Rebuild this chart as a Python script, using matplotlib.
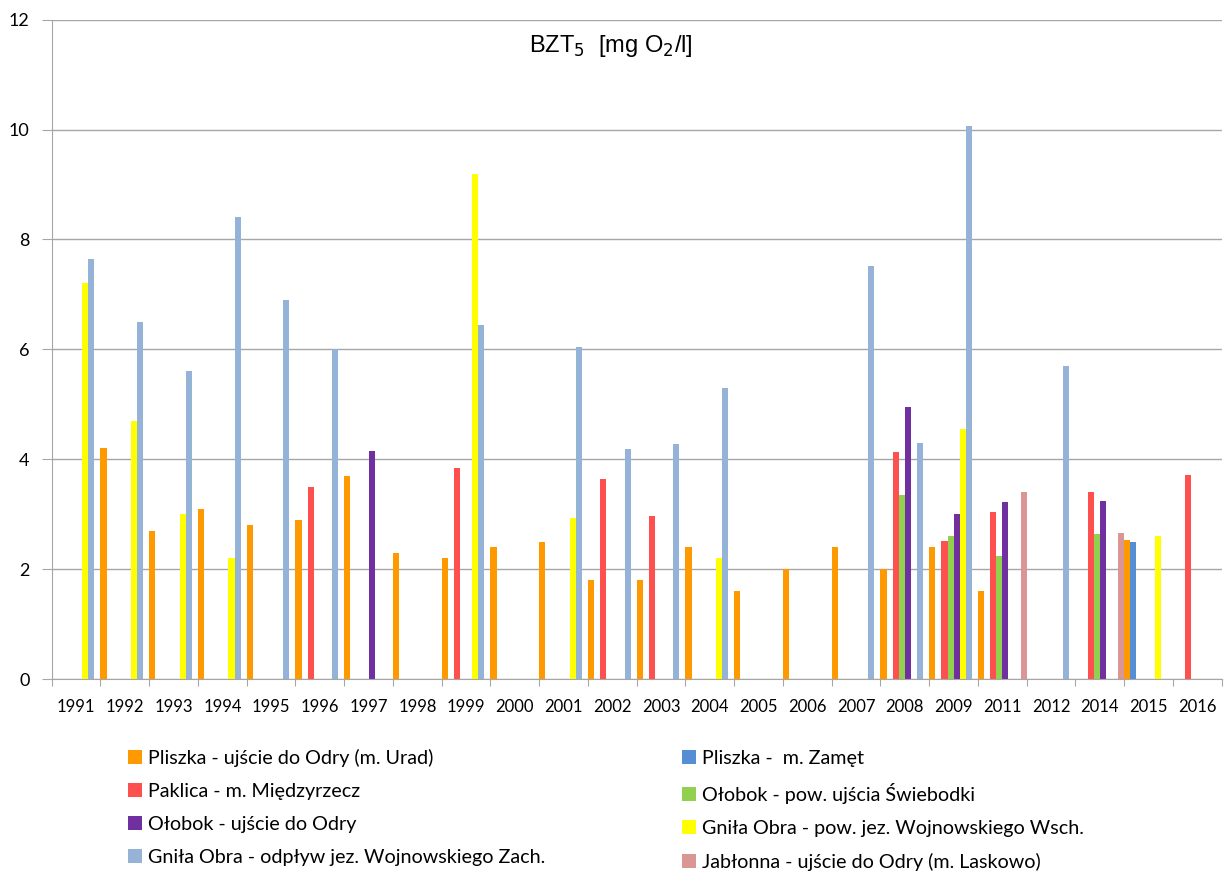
import numpy as np
import matplotlib
matplotlib.use("Agg")
import matplotlib.pyplot as plt
from matplotlib.patches import Patch

nan = np.nan

years = ["1991", "1992", "1993", "1994", "1995", "1996", "1997", "1998",
         "1999", "2000", "2001", "2002", "2003", "2004", "2005", "2006",
         "2007", "2008", "2009", "2011", "2012", "2014", "2015", "2016"]

# BZT5 per station, one value per year column (nan = no measurement)
pliszka_urad = [nan, 4.2, 2.7, 3.1, 2.8, 2.9, 3.7, 2.3, 2.2, 2.4, 2.5, 1.8,
                1.8, 2.4, 1.6, 2.0, 2.4, 2.0, 2.4, 1.6, nan, nan, 2.53, nan]
pliszka_zamet = [nan] * 22 + [2.5, nan]
paklica = [nan, nan, nan, nan, nan, 3.5, nan, nan, 3.84, nan, nan, 3.64,
           2.97, nan, nan, nan, nan, 4.13, 2.51, 3.05, nan, 3.4, nan, 3.71]
olobok_pow = [nan] * 17 + [3.36, 2.6, 2.25, nan, 2.65, nan, nan]
olobok_ujscie = [nan, nan, nan, nan, nan, nan, 4.15, nan, nan, nan, nan, nan,
                 nan, nan, nan, nan, nan, 4.95, 3.0, 3.22, nan, 3.24, nan, nan]
gnila_wsch = [7.2, 4.7, 3.0, 2.2, nan, nan, nan, nan, 9.2, nan, 2.94, nan,
              nan, 2.2, nan, nan, nan, nan, 4.55, nan, nan, nan, 2.6, nan]
gnila_zach = [7.65, 6.5, 5.6, 8.4, 6.9, 6.0, nan, nan, 6.45, nan, 6.05, 4.19,
              4.28, 5.3, nan, nan, 7.52, 4.3, 10.07, nan, 5.7, nan, nan, nan]
jablonna = [nan] * 19 + [3.4, nan, 2.66, nan, nan]

series = [
    ("Pliszka - ujście do Odry (m. Urad)", pliszka_urad, "#FF9900"),
    ("Pliszka -  m. Zamęt", pliszka_zamet, "#558ED5"),
    ("Paklica - m. Międzyrzecz", paklica, "#FF5050"),
    ("Ołobok - pow. ujścia Świebodki", olobok_pow, "#92D050"),
    ("Ołobok - ujście do Odry", olobok_ujscie, "#7030A0"),
    ("Gniła Obra - pow. jez. Wojnowskiego Wsch.", gnila_wsch, "#FFFF00"),
    ("Gniła Obra - odpływ jez. Wojnowskiego Zach.", gnila_zach, "#95B3D7"),
    ("Jabłonna - ujście do Odry (m. Laskowo)", jablonna, "#D99694"),
]

plt.rcParams["font.family"] = ["Lato", "DejaVu Sans"]

fig = plt.figure(figsize=(12.29, 8.71), dpi=100)
ax = fig.add_axes([0.0421, 0.2199, 0.9520, 0.7577])

x = np.arange(len(years))
n = len(series)
w = 1.0 / n
for k, (label, vals, color) in enumerate(series):
    ax.bar(x + (k - (n - 1) / 2) * w, vals, width=w, color=color,
           linewidth=0, label=label)

ax.set_xlim(-0.5, len(years) - 0.5)
ax.set_ylim(0, 12)
ax.set_yticks(np.arange(0, 13, 2))
ax.yaxis.grid(True, color="#A6A6A6", linewidth=1)
ax.set_axisbelow(True)

# boundary ticks between years, labels centred under each group
ax.set_xticks(np.arange(-0.5, len(years), 1.0))
ax.set_xticklabels([])
ax.set_xticks(x, minor=True)
ax.set_xticklabels(years, minor=True)
ax.tick_params(axis="x", which="major", length=5, color="#A6A6A6")
ax.tick_params(axis="x", which="minor", length=0, pad=14, labelsize=12)
ax.tick_params(axis="y", length=7, color="#A6A6A6", pad=9, labelsize=13)

for side in ("top", "right"):
    ax.spines[side].set_visible(False)
for side in ("left", "bottom"):
    ax.spines[side].set_color("#A6A6A6")

ax.text(0.478, 0.98, r"BZT$_5$  [mg O$_2$/l]", transform=ax.transAxes,
        ha="center", va="top", fontsize=17, family="Liberation Sans")

# legend laid out row by row: left column then right column
order = [0, 2, 4, 6, 1, 3, 5, 7]
handles = [Patch(facecolor=series[i][2], label=series[i][0]) for i in order]
fig.legend(handles=handles, loc="upper left", bbox_to_anchor=(0.098, 0.149),
           ncol=2, frameon=False, fontsize=14.2, handlelength=0.7,
           handleheight=0.7, handletextpad=0.3, labelspacing=0.8,
           columnspacing=6.95, borderaxespad=0)

fig.savefig("out.png", dpi=100)
